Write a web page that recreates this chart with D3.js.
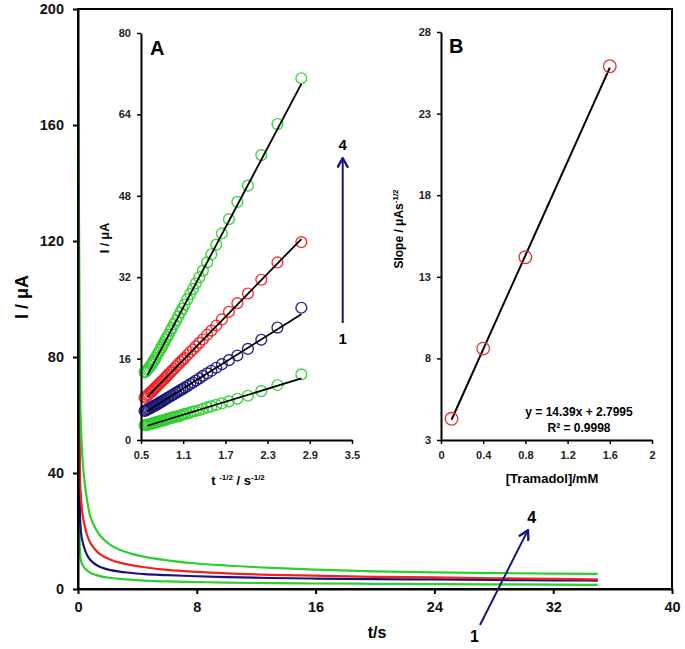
<!DOCTYPE html>
<html><head><meta charset="utf-8">
<script src="https://cdn.jsdelivr.net/npm/d3@7"></script>
<style>
body{margin:0;background:#fff;}
svg{display:block;font-family:"Liberation Sans",Arial,sans-serif;font-weight:bold;}
</style>
</head><body><svg id="c" width="685" height="649"></svg>
<script>
// ---------- main chronoamperograms ----------
const time = [0.01, 0.13, 0.2, 0.3, 0.45, 0.6, 0.8, 1.0, 1.3, 1.7, 2.2, 2.8, 3.5, 4.5, 6, 8, 10, 13, 16, 20, 24, 28, 32, 35];
const mainI1 = [60, 12.9, 9.8, 8.4, 7.2, 6.4, 5.7, 5.2, 4.7, 4.2, 3.8, 3.5, 3.2, 2.9, 2.6, 2.4, 2.2, 2.0, 1.9, 1.8, 1.7, 1.6, 1.5, 1.4];
const mainI2 = [90, 26, 19.7, 16.5, 13.8, 11.8, 10.2, 9.2, 8.1, 7.2, 6.5, 6.0, 5.6, 5.1, 4.8, 4.4, 4.1, 3.8, 3.6, 3.4, 3.3, 3.1, 3.0, 2.9];
const mainI3 = [120, 38.9, 31.5, 26, 21.8, 18.8, 16.2, 14.6, 12.8, 11.3, 10.1, 9.1, 8.3, 7.5, 6.6, 5.9, 5.4, 4.9, 4.6, 4.2, 4.0, 3.7, 3.5, 3.3];
const mainI4 = [180, 71, 56, 45, 36.5, 31, 25.5, 22.8, 19.8, 17.2, 15.1, 13.5, 12.3, 11.1, 9.9, 8.8, 8.1, 7.3, 6.7, 6.1, 5.7, 5.5, 5.3, 5.2];
const mainXTicks = [0, 8, 16, 24, 32, 40];
const mainYTicks = [0, 40, 80, 120, 160, 200];

// ---------- inset A : I vs t^-1/2 ----------
const tInv = [2.78, 2.44, 2.21, 2.02, 1.87, 1.75, 1.65, 1.57, 1.50, 1.44, 1.38, 1.33, 1.28, 1.24, 1.20, 1.16, 1.12, 1.09, 1.06, 1.03, 1.00, 0.97, 0.94, 0.92, 0.89, 0.87, 0.85, 0.83, 0.81, 0.79, 0.77, 0.75, 0.73, 0.71, 0.69, 0.67, 0.65, 0.63, 0.61, 0.59, 0.57, 0.55];
const insetI1 = [12.9, 10.8, 9.6, 8.7, 8.1, 7.6, 7.2, 6.9, 6.6, 6.4, 6.1, 5.9, 5.7, 5.6, 5.4, 5.2, 5.1, 5.0, 4.8, 4.7, 4.6, 4.5, 4.4, 4.3, 4.2, 4.1, 4.0, 3.9, 3.8, 3.8, 3.7, 3.6, 3.5, 3.4, 3.4, 3.3, 3.2, 3.1, 3.1, 3.0, 2.9, 2.9];
const insetI2 = [26.0, 22.1, 19.7, 17.9, 16.6, 15.7, 14.9, 14.2, 13.6, 13.1, 12.6, 12.1, 11.7, 11.3, 11.0, 10.6, 10.3, 10.0, 9.8, 9.5, 9.3, 9.0, 8.8, 8.6, 8.4, 8.2, 8.0, 7.9, 7.7, 7.5, 7.4, 7.2, 7.0, 6.9, 6.7, 6.6, 6.4, 6.3, 6.1, 6.0, 5.8, 5.7];
const insetI3 = [38.9, 34.9, 31.5, 28.8, 26.9, 25.2, 23.7, 22.5, 21.5, 20.7, 19.8, 19.1, 18.4, 17.8, 17.3, 16.7, 16.1, 15.7, 15.3, 14.9, 14.5, 14.0, 13.6, 13.3, 12.9, 12.6, 12.3, 12.0, 11.7, 11.5, 11.2, 10.9, 10.6, 10.4, 10.1, 9.8, 9.5, 9.3, 9.0, 8.8, 8.5, 8.3];
const insetI4 = [71.1, 62.1, 56.0, 50.0, 46.8, 43.4, 40.6, 38.4, 36.5, 34.9, 33.3, 32.0, 30.8, 29.7, 28.7, 27.7, 26.6, 25.8, 25.1, 24.3, 23.5, 22.8, 22.0, 21.5, 20.7, 20.2, 19.7, 19.2, 18.7, 18.2, 17.7, 17.2, 16.7, 16.2, 15.7, 15.3, 14.9, 14.5, 14.1, 13.8, 13.5, 13.3];
const fitAX = [0.59, 2.78];
const fitA1 = [2.8, 12.1];
const fitA2 = [5.7, 24.7];
const fitA3 = [8.5, 39.5];
const fitA4 = [12.7, 70.0];
const insetAXTicks = ["0.5", "1.1", "1.7", "2.3", "2.9", "3.5"];
const insetAYTicks = [0, 16, 32, 48, 64, 80];

// ---------- inset B : slope vs concentration ----------
const conc = [0.1, 0.4, 0.8, 1.6];
const slopes = [4.3, 8.6, 14.2, 25.9];
const fitBX = [0.1, 1.6];
const fitBY = [4.24, 25.82];
const insetBXTicks = ["0", "0.4", "0.8", "1.2", "1.6", "2"];
const insetBYTicks = [3, 8, 13, 18, 23, 28];

const GREEN = "#2ccf2c", RED = "#f22020", NAVY = "#15157a";
const svg = d3.select("#c");

// ================= MAIN =================
const xM = d3.scaleLinear().domain([0, 40]).range([78, 672]);
const yM = d3.scaleLinear().domain([0, 200]).range([589, 9]);

const line = d3.line().x(d => xM(d[0])).y(d => yM(d[1])).curve(d3.curveMonotoneX);
[[mainI1, GREEN], [mainI2, NAVY], [mainI3, RED], [mainI4, GREEN]].forEach(([s, c]) => {
  svg.append("path").datum(time.map((t, i) => [t, s[i]]))
    .attr("d", line).attr("fill", "none").attr("stroke", c).attr("stroke-width", 2.2);
});

// frame
svg.append("rect").attr("x", xM(0)).attr("y", yM(200)).attr("width", xM(40) - xM(0))
  .attr("height", yM(0) - yM(200)).attr("fill", "none").attr("stroke", "#000").attr("stroke-width", 2);

const gxM = svg.append("g").attr("transform", `translate(0,${yM(0)})`)
  .call(d3.axisBottom(xM).tickValues(mainXTicks).tickSize(5).tickSizeOuter(0).tickPadding(8));
const gyM = svg.append("g").attr("transform", `translate(${xM(0)},0)`)
  .call(d3.axisLeft(yM).tickValues(mainYTicks).tickSize(5).tickSizeOuter(0).tickPadding(9));
[gxM, gyM].forEach(g => {
  g.select(".domain").attr("stroke-width", 2);
  g.selectAll(".tick line").attr("stroke-width", 2);
  g.selectAll("text").attr("font-size", 14.5).attr("font-weight", "bold")
    .attr("font-family", "'Liberation Sans',Arial,sans-serif").attr("fill", "#111");
});

svg.append("text").attr("x", 377).attr("y", 638).attr("text-anchor", "middle")
  .attr("font-size", 16).text("t/s");
svg.append("text").attr("transform", "translate(28,297) rotate(-90)").attr("text-anchor", "middle")
  .attr("font-size", 18).text("I / μA");

// defs arrow
const defs = svg.append("defs");
defs.append("marker").attr("id", "ah").attr("viewBox", "0 0 10 10").attr("refX", 9).attr("refY", 5)
  .attr("markerWidth", 12).attr("markerHeight", 12).attr("orient", "auto").attr("markerUnits", "userSpaceOnUse")
  .append("path").attr("d", "M1,0.5 L9,5 L1,9.5").attr("fill", "none").attr("stroke", NAVY).attr("stroke-width", 2);

// main arrow 1 -> 4
svg.append("line").attr("x1", xM(27.07)).attr("y1", yM(-12.4)).attr("x2", xM(30.3)).attr("y2", yM(20.3))
  .attr("stroke", NAVY).attr("stroke-width", 2).attr("marker-end", "url(#ah)");
svg.append("text").attr("x", xM(26.7)).attr("y", yM(-16.4)).attr("dy", "0.35em").attr("text-anchor", "middle")
  .attr("font-size", 16).text("1");
svg.append("text").attr("x", xM(30.55)).attr("y", yM(24.8)).attr("dy", "0.35em").attr("text-anchor", "middle")
  .attr("font-size", 16).text("4");

// ================= INSET A =================
const xA = d3.scaleLinear().domain([0.5, 3.5]).range([141, 352]);
const yA = d3.scaleLinear().domain([0, 80]).range([440, 33]);

[[insetI1, GREEN], [insetI2, NAVY], [insetI3, RED], [insetI4, GREEN]].forEach(([s, c]) => {
  svg.append("g").selectAll("circle").data(tInv.map((x, i) => [x, s[i]])).join("circle")
    .attr("cx", d => xA(d[0])).attr("cy", d => yA(d[1])).attr("r", 5.4)
    .attr("fill", "none").attr("stroke", c).attr("stroke-width", 1.4).attr("stroke-opacity", 0.9);
});
[fitA1, fitA2, fitA3, fitA4].forEach(f => {
  svg.append("line").attr("x1", xA(fitAX[0])).attr("y1", yA(f[0]))
    .attr("x2", xA(fitAX[1])).attr("y2", yA(f[1])).attr("stroke", "#000").attr("stroke-width", 1.8);
});

const gxA = svg.append("g").attr("transform", `translate(0,${yA(0)})`)
  .call(d3.axisBottom(xA).tickValues(insetAXTicks.map(Number)).tickFormat((d, i) => insetAXTicks[i])
    .tickSize(4).tickSizeOuter(0).tickPadding(7));
const gyA = svg.append("g").attr("transform", `translate(${xA(0.5)},0)`)
  .call(d3.axisLeft(yA).tickValues(insetAYTicks).tickSize(4).tickSizeOuter(0).tickPadding(6));
[gxA, gyA].forEach(g => {
  g.select(".domain").attr("stroke-width", 2);
  g.selectAll(".tick line").attr("stroke-width", 1.5);
  g.selectAll("text").attr("font-size", 11).attr("font-weight", "bold")
    .attr("font-family", "'Liberation Sans',Arial,sans-serif").attr("fill", "#222");
});
svg.append("text").attr("x", 150).attr("y", 55).attr("font-size", 20).text("A");
svg.append("text").attr("transform", "translate(109,238) rotate(-90)").attr("text-anchor", "middle")
  .attr("font-size", 12.5).text("I / μA");
const tlA = svg.append("text").attr("x", 238).attr("y", 485).attr("text-anchor", "middle").attr("font-size", 13);
tlA.append("tspan").text("t ");
tlA.append("tspan").attr("font-size", 8).attr("dy", -5).text("-1/2");
tlA.append("tspan").attr("dy", 5).text(" / s");
tlA.append("tspan").attr("font-size", 8).attr("dy", -5).text("-1/2");

// inset arrow 1 -> 4
svg.append("line").attr("x1", xA(3.368)).attr("y1", yA(23.0)).attr("x2", xA(3.368)).attr("y2", yA(55.4))
  .attr("stroke", NAVY).attr("stroke-width", 2).attr("marker-end", "url(#ah)");
svg.append("text").attr("x", xA(3.368)).attr("y", yA(58.0)).attr("dy", "0.35em").attr("text-anchor", "middle")
  .attr("font-size", 15).text("4");
svg.append("text").attr("x", xA(3.368)).attr("y", yA(20.0)).attr("dy", "0.35em").attr("text-anchor", "middle")
  .attr("font-size", 15).text("1");

// ================= INSET B =================
const xB = d3.scaleLinear().domain([0, 2]).range([441, 652]);
const yB = d3.scaleLinear().domain([3, 28]).range([440, 32]);

svg.append("line").attr("x1", xB(fitBX[0])).attr("y1", yB(fitBY[0]))
  .attr("x2", xB(fitBX[1])).attr("y2", yB(fitBY[1])).attr("stroke", "#000").attr("stroke-width", 2);
svg.append("g").selectAll("circle").data(conc.map((c, i) => [c, slopes[i]])).join("circle")
  .attr("cx", d => xB(d[0])).attr("cy", d => yB(d[1])).attr("r", 6.3)
  .attr("fill", "none").attr("stroke", "#e8302f").attr("stroke-width", 1.3);

const gxB = svg.append("g").attr("transform", `translate(0,${yB(3)})`)
  .call(d3.axisBottom(xB).tickValues(insetBXTicks.map(Number)).tickFormat((d, i) => insetBXTicks[i])
    .tickSize(4).tickSizeOuter(0).tickPadding(7));
const gyB = svg.append("g").attr("transform", `translate(${xB(0)},0)`)
  .call(d3.axisLeft(yB).tickValues(insetBYTicks).tickSize(4).tickSizeOuter(0).tickPadding(6));
[gxB, gyB].forEach(g => {
  g.select(".domain").attr("stroke-width", 2);
  g.selectAll(".tick line").attr("stroke-width", 1.5);
  g.selectAll("text").attr("font-size", 11).attr("font-weight", "bold")
    .attr("font-family", "'Liberation Sans',Arial,sans-serif").attr("fill", "#222");
});
svg.append("text").attr("x", 449).attr("y", 53).attr("font-size", 20).text("B");
const ylB = svg.append("text").attr("transform", "translate(403,229) rotate(-90)").attr("text-anchor", "middle")
  .attr("font-size", 12);
ylB.append("tspan").text("Slope / μAs");
ylB.append("tspan").attr("font-size", 8).attr("dy", -5).text("-1/2");
svg.append("text").attr("x", 552).attr("y", 483).attr("text-anchor", "middle").attr("font-size", 13)
  .text("[Tramadol]/mM");
svg.append("text").attr("x", 579).attr("y", 416).attr("text-anchor", "middle").attr("font-size", 12)
  .text("y = 14.39x + 2.7995");
svg.append("text").attr("x", 579).attr("y", 432).attr("text-anchor", "middle").attr("font-size", 12)
  .text("R² = 0.9998");
</script></body></html>
